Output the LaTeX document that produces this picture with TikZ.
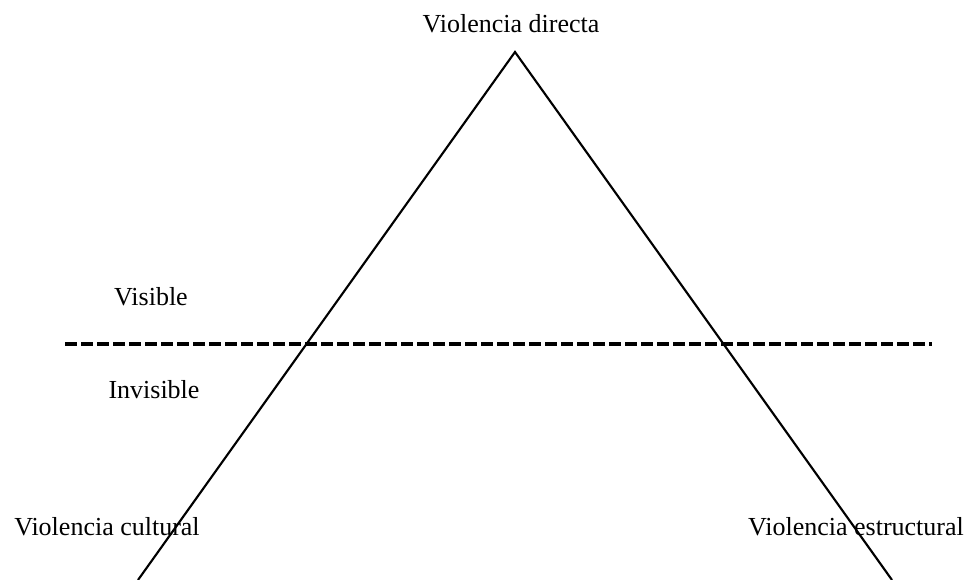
\documentclass[tikz,border=0pt]{standalone}
\usepackage{fontspec}
\setmainfont{Liberation Serif}
\begin{document}
\begin{tikzpicture}[x=0.75pt, y=-0.75pt, % pixel grid, y downwards
    txt/.style={font=\fontsize{19.5}{23}\selectfont, anchor=base, inner sep=0pt},
    side/.style={line width=1.6pt},
    divide/.style={line width=2.7pt, dash pattern=on 9pt off 3pt}]

    % Frame of the picture
    \useasboundingbox (0,0) rectangle (972,580);
    \clip (0,0) rectangle (972,580);

    % Corners of the triangle (base runs off the bottom edge)
    \coordinate (apex) at (515,52);
    \coordinate (leftFoot) at (138,580);
    \coordinate (rightFoot) at (892,580);

    % Draw the two sides
    \draw[side] (leftFoot) -- (apex) -- (rightFoot);

    % Dashed line between visible and invisible
    \coordinate (divStart) at (65,344);
    \coordinate (divEnd) at (932,344);
    \draw[divide] (divStart) -- (divEnd);

    % Labels
    \node[txt] (directa) at (511,33) {Violencia directa};
    \node[txt] (visible) at (151,306) {Visible};
    \node[txt] (invisible) at (154,399) {Invisible};
    \node[txt] (cultural) at (107,536) {Violencia cultural};
    \node[txt] (estructural) at (856,536) {Violencia estructural};

\end{tikzpicture}
\end{document}
